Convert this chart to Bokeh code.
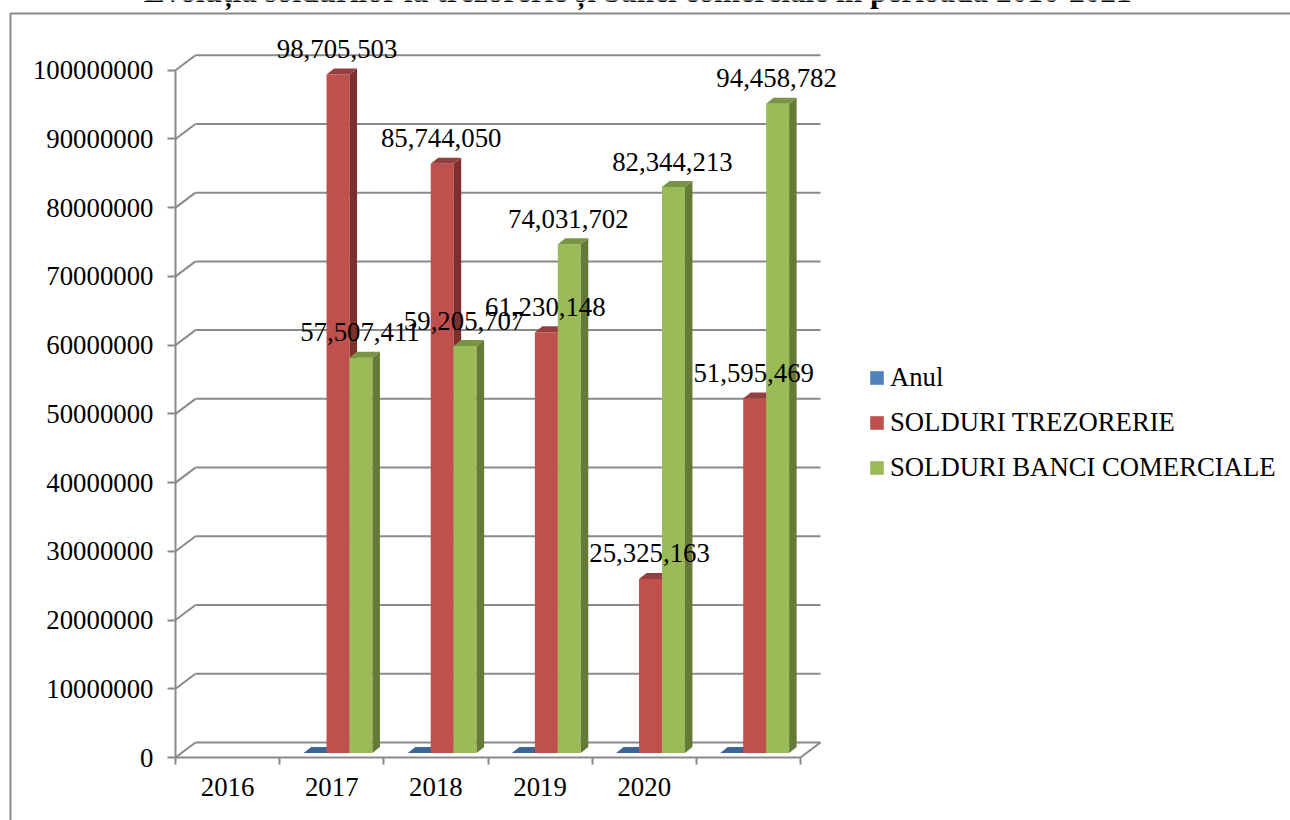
from bokeh.plotting import figure
from bokeh.models import (ColumnDataSource, FixedTicker, LinearAxis, BasicTickFormatter, Label,
                          Legend, LegendItem, BoxAnnotation)
from bokeh.core.properties import value
from bokeh.embed import file_html
from bokeh.resources import INLINE

# ---- data
category_labels = ["2016", "2017", "2018", "2019", "2020", ""]
anul = [None, 2016, 2017, 2018, 2019, 2020]
solduri_trezorerie = [None, 98705503, 85744050, 61230148, 25325163, 51595469]
solduri_banci = [None, 57507411, 59205707, 74031702, 82344213, 94458782]
y_ticks = [0, 10000000, 20000000, 30000000, 40000000, 50000000, 60000000, 70000000, 80000000, 90000000, 100000000]
series_names = ["Anul", "SOLDURI TREZORERIE", "SOLDURI BANCI COMERCIALE"]
title_text = "Evoluția soldurilor la trezorerie și banci comerciale in perioada 2016-2021"

# ---- style
FONT = "Liberation Serif"
GRID = "#8a8a8a"
BLUE, BLUE_TOP = "#4F81BD", "#3A6595"
RED, RED_SIDE, RED_TOP = "#C0504D", "#7D2F2D", "#954040"
GREEN, GREEN_SIDE, GREEN_TOP = "#9BBB59", "#657A37", "#7A9446"

W, H = 1290, 820
PX_X = 625 / 6            # px per category
PX_Y = 687.3 / 100000000  # px per value
X0, Y0 = 175, 757         # where the axes cross, on the canvas

p = figure(width=W, height=H, output_backend="svg", toolbar_location=None,
           x_range=(-X0 / PX_X, (W - X0) / PX_X),
           y_range=((Y0 - H) / PX_Y, Y0 / PX_Y),
           x_axis_type=None, y_axis_type=None,
           min_border=0, outline_line_color=None, background_fill_color="white",
           styles={"position": "absolute", "left": "0px", "top": "0px"})
p.grid.visible = False

# chart border
p.add_layout(BoxAnnotation(left=10, right=W + 20, top=H - 13, bottom=-20,
                           left_units="screen", right_units="screen", top_units="screen", bottom_units="screen",
                           fill_color=None, fill_alpha=0, line_color=GRID, line_alpha=1, line_width=2))

# 3-D walls, drawn from the tick values
WALL_DX, WALL_DY = 20 / PX_X, 15 / PX_Y
n = len(category_labels)
p.segment(x0=[WALL_DX] * len(y_ticks), x1=[n + WALL_DX] * len(y_ticks),
          y0=[t + WALL_DY for t in y_ticks], y1=[t + WALL_DY for t in y_ticks],
          line_color=GRID, line_width=2)
p.segment(x0=[0] * len(y_ticks), x1=[WALL_DX] * len(y_ticks),
          y0=y_ticks, y1=[t + WALL_DY for t in y_ticks],
          line_color=GRID, line_width=2)
p.segment(x0=[n], x1=[n + WALL_DX], y0=[0], y1=[WALL_DY], line_color=GRID, line_width=2)

# axes
yax = LinearAxis(ticker=FixedTicker(ticks=y_ticks), formatter=BasicTickFormatter(use_scientific=False),
                 bounds=(0, 100000000), fixed_location=0,
                 axis_line_color=GRID, axis_line_width=2,
                 major_tick_line_color=GRID, major_tick_line_width=2,
                 major_tick_out=8, major_tick_in=0, minor_tick_out=0, minor_tick_in=0,
                 major_label_standoff=14, major_label_text_font=FONT,
                 major_label_text_font_size="26.8px", major_label_text_color="black")
p.add_layout(yax, "left")

xax = LinearAxis(ticker=FixedTicker(ticks=[i + 0.5 for i in range(n)], minor_ticks=list(range(n + 1))),
                 major_label_overrides={i + 0.5: lab for i, lab in enumerate(category_labels)},
                 bounds=(0, n), fixed_location=0,
                 axis_line_color=GRID, axis_line_width=2,
                 major_tick_line_color=None, major_tick_out=0, major_tick_in=0,
                 minor_tick_line_color=GRID, minor_tick_line_width=2, minor_tick_out=7, minor_tick_in=0,
                 major_label_standoff=13, major_label_text_font=FONT,
                 major_label_text_font_size="26.8px", major_label_text_color="black")
p.add_layout(xax, "below")

# bars
BAR_W = 23 / PX_X
BASE = 4.5 / PX_Y
DEPTH_X, DEPTH_Y = 7.5 / PX_X, 6 / PX_Y
OFFSETS = [0.23, 0.45, 0.67]


def bar(series, offset, face, side, top):
    idx = [i for i, v in enumerate(series) if v is not None]
    vals = [series[i] for i in idx]
    left = [i + offset for i in idx]
    right = [l + BAR_W for l in left]
    tops = [BASE + v for v in vals]
    r = p.quad(left=left, right=right, bottom=[BASE] * len(idx), top=tops, fill_color=face, line_color=None)
    p.patches(xs=[[x, x + DEPTH_X, x + DEPTH_X, x] for x in right],
              ys=[[BASE, BASE + DEPTH_Y, t + DEPTH_Y, t] for t in tops],
              fill_color=side, line_color=None)
    p.patches(xs=[[l, x, x + DEPTH_X, l + DEPTH_X] for l, x in zip(left, right)],
              ys=[[t, t, t + DEPTH_Y, t + DEPTH_Y] for t in tops],
              fill_color=top, line_color=None)
    return r, left, tops, vals


r_blue, *_ = bar(anul, OFFSETS[0], BLUE, BLUE_TOP, BLUE_TOP)
r_red, l_red, t_red, v_red = bar(solduri_trezorerie, OFFSETS[1], RED, RED_SIDE, RED_TOP)
r_green, l_green, t_green, v_green = bar(solduri_banci, OFFSETS[2], GREEN, GREEN_SIDE, GREEN_TOP)

# data labels
for lefts, tops, vals in ((l_red, t_red, v_red), (l_green, t_green, v_green)):
    src = ColumnDataSource(dict(x=[l + BAR_W / 2 for l in lefts], y=tops, t=[f"{v:,}" for v in vals]))
    p.text(x="x", y="y", text="t", source=src, text_align="center", text_baseline="alphabetic",
           x_offset=-1, y_offset=-25.5, text_font=value(FONT), text_font_size=value("26.8px"), text_color="black")

# legend
legend = Legend(items=[LegendItem(label=series_names[0], renderers=[r_blue]),
                       LegendItem(label=series_names[1], renderers=[r_red]),
                       LegendItem(label=series_names[2], renderers=[r_green])],
                location=(868, H - 483), orientation="vertical",
                glyph_width=17, glyph_height=17, label_standoff=5, spacing=14,
                padding=0, margin=0, border_line_color=None, background_fill_alpha=0,
                label_text_font=FONT, label_text_font_size="26.7px", label_text_color="black")
p.add_layout(legend, "center")

# title, cropped by the top of the picture as in the reference
p.add_layout(Label(x=637.5, y=H + 9, x_units="screen", y_units="screen", text=title_text,
                   text_align="center", text_baseline="alphabetic",
                   text_font=FONT, text_font_size="31.3px", text_font_style="bold", text_color="black"))

open("out.html", "w").write(file_html(p, INLINE))
